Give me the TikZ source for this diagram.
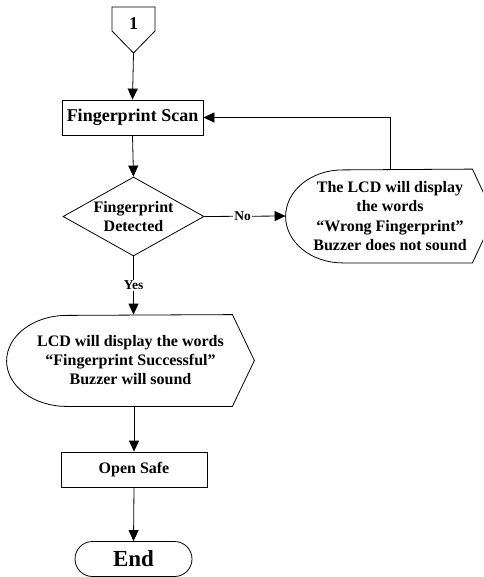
\documentclass[tikz,border=0pt]{standalone}
\usepackage{fontspec}
\setmainfont{Liberation Serif}
\usetikzlibrary{arrows.meta,shapes.geometric}

\begin{document}
\begin{tikzpicture}[x=1pt,y=-1pt,line join=miter,line width=0.8pt,
  font=\bfseries\fontsize{16}{19.2}\selectfont,
  box/.style={draw,minimum width=#1,minimum height=35pt,inner sep=2pt},
  flow/.style={-{Triangle[length=11pt,width=10pt]}},
  lbl/.style={fill=white,inner sep=1.5pt,font=\bfseries\fontsize{13.5}{15}\selectfont}]
  \clip (0,0) rectangle (483,577);
  % connector from previous page
  \draw (112,7) -- (155,7) -- (155,31) -- (133.5,53) -- (112,31) -- cycle;
  \node[font=\bfseries\fontsize{18}{20}\selectfont] (conn) at (133.5,24) {1};
  \coordinate (conntip) at (133.5,53);
  \node[box=141pt,font=\bfseries\fontsize{18}{20}\selectfont] (scan) at (132.5,117.5) {Fingerprint Scan};
  \node[draw,diamond,aspect=1.78,minimum width=141pt,minimum height=79pt,inner sep=0pt,
    align=center,font=\bfseries\fontsize{16}{18.3}\selectfont] (detect) at (133.5,216.5) {Fingerprint\\Detected};
  \node[minimum width=208pt,minimum height=93pt,inner sep=0pt,align=center,
    font=\bfseries\fontsize{16}{19.4}\selectfont] (wrong) at (390,216)
    {The LCD will display\\the words\\``Wrong Fingerprint''\\Buzzer does not sound};
  \node[minimum width=247pt,minimum height=91pt,inner sep=0pt,align=center,
    font=\bfseries\fontsize{16}{19}\selectfont] (success) at (130.5,360.5)
    {LCD will display the words\\``Fingerprint Successful''\\Buzzer will sound};
  % display outlines
  \foreach \n/\r/\h in {wrong/57/46.5,success/60/45.5}{
    \draw ([xshift=-22pt]\n.north east) -- (\n.east) -- ([xshift=-22pt]\n.south east)
      -- ([xshift=\r pt]\n.south west)
      arc[start angle=270,end angle=90,x radius=\r pt,y radius=\h pt] -- cycle;
  }
  \node[box=146pt] (safe) at (134,469.5) {Open Safe};
  \node[draw,rounded corners=17.5pt,minimum width=117pt,minimum height=35pt,
    font=\bfseries\fontsize{23}{25}\selectfont] (finish) at (133.5,559) {End};
  % connectors
  \draw[flow] (conntip) -- (scan.north);
  \draw[flow] (scan.south) -- (detect.north);
  \draw[flow] (detect.east) -- node[lbl,pos=0.47] {No} (wrong.west);
  \draw[flow] (wrong.north) |- (scan.east);
  \draw[flow] (detect.south) -- node[lbl] {Yes} (detect.south |- success.north);
  \draw[flow] (safe.north |- success.south) -- (safe.north);
  \draw[flow] (safe.south) -- (finish.north);
\end{tikzpicture}
\end{document}
